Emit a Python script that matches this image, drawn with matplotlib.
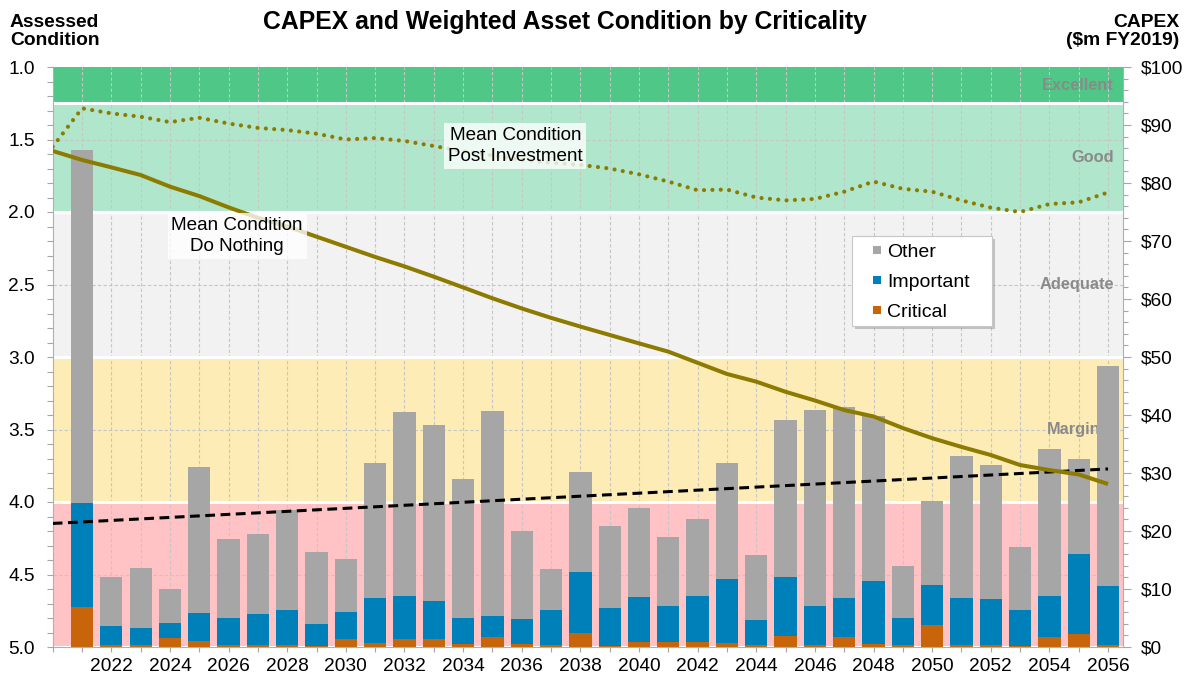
import numpy as np
import matplotlib
matplotlib.use("Agg")
import matplotlib.pyplot as plt
from matplotlib.lines import Line2D
from matplotlib.patches import Rectangle
from matplotlib.ticker import MultipleLocator, FuncFormatter

plt.rcParams['font.family'] = ['Liberation Sans', 'DejaVu Sans']

# ---------------- data ----------------
years = list(range(2021, 2057))
critical = [6.9, 0.3, 0.4, 1.6, 1.1, 0.3, 0.3, 0.3, 0.1, 1.3, 0.7, 1.4, 1.3, 0.5, 1.7, 0.6, 0.3, 2.4,
            0.1, 0.9, 0.9, 0.9, 0.7, 0.4, 1.9, 0.4, 1.8, 0.6, 0.3, 3.8, 0.3, 0.3, 0.2, 1.7, 2.3, 0.4]
important = [18.0, 3.3, 2.9, 2.5, 4.8, 4.7, 5.4, 6.0, 3.8, 4.7, 7.7, 7.4, 6.6, 4.5, 3.6, 4.3, 6.0, 10.5,
             6.6, 7.7, 6.1, 7.9, 11.0, 4.3, 10.1, 6.6, 6.6, 10.7, 4.7, 6.9, 8.1, 8.0, 6.2, 7.1, 13.8, 10.2]
other = [60.8, 8.5, 10.3, 5.9, 25.1, 13.6, 13.7, 17.3, 12.4, 9.2, 23.3, 31.8, 30.4, 23.9, 35.4, 15.1, 7.1, 17.2,
         14.2, 15.4, 11.9, 13.2, 20.1, 11.2, 27.2, 33.9, 32.9, 28.6, 9.0, 14.4, 24.5, 23.0, 10.8, 25.4, 16.3, 37.9]

line_years = list(range(2020, 2057))
cond_do_nothing = [1.579, 1.641, 1.692, 1.745, 1.825, 1.89, 1.968, 2.04, 2.10, 2.17, 2.24, 2.31, 2.375,
                   2.446, 2.52, 2.595, 2.665, 2.73, 2.79, 2.848, 2.906, 2.963, 3.04, 3.117, 3.17, 3.24,
                   3.30, 3.366, 3.41, 3.49, 3.56, 3.62, 3.676, 3.745, 3.78, 3.81, 3.876]
cond_post_invest = [1.55, 1.285, 1.32, 1.343, 1.38, 1.35, 1.39, 1.42, 1.435, 1.46, 1.50, 1.49, 1.51,
                    1.545, 1.58, 1.61, 1.64, 1.66, 1.675, 1.70, 1.74, 1.79, 1.85, 1.845, 1.90, 1.92,
                    1.91, 1.86, 1.79, 1.84, 1.86, 1.92, 1.97, 2.00, 1.945, 1.933, 1.865]

trend_years = [2020, 2056]
trend_capex = [21.3, 30.7]

band_names = ["Excellent", "Good", "Adequate", "Marginal", "Poor"]
band_edges = [1.0, 1.25, 2.0, 3.0, 4.0, 5.0]
band_colors = ["#4fc787", "#b0e6cc", "#f2f2f2", "#fdecb5", "#ffc2c5"]
band_label_show = [True, True, True, True, False]

xtick_labels = [str(y) if (y % 2 == 0 and y >= 2022) else "" for y in range(2020, 2057)]
legend_labels = ["Other", "Important", "Critical"]

c_other = "#a6a6a6"
c_imp = "#0080b8"
c_crit = "#c8650a"
c_line = "#8c7b00"

# ---------------- figure ----------------
W, H = 1184, 679
fig = plt.figure(figsize=(W / 100, H / 100), dpi=100)
L, R, T, B = 52.7, 1122.7, 67, 647
ax = fig.add_axes([L / W, 1 - B / H, (R - L) / W, (B - T) / H])
axc = ax.twinx()
ax.set_xlim(2020, 2056.5)
ax.set_ylim(0, 100)
axc.set_ylim(5.0, 1.0)


def c2v(c):  # condition scale -> capex scale (both axes share the same plot box)
    return (5.0 - c) * 25.0


# bands
for i, name in enumerate(band_names):
    lo, hi = band_edges[i], band_edges[i + 1]
    ax.axhspan(c2v(hi), c2v(lo), color=band_colors[i], lw=0, zorder=0)
for e in band_edges[1:]:
    ax.axhline(c2v(e), color="white", lw=2.2, zorder=0.6)

# grid
grid_kw = dict(color="#c6c6c6", lw=0.8, ls=(0, (3, 2)), zorder=0.5)
for y in years:
    ax.axvline(y, **grid_kw)
for c in np.arange(1.5, 5.0, 0.5):
    ax.axhline(c2v(c), **grid_kw)

# band labels (under the bars)
for i, name in enumerate(band_names):
    if band_label_show[i]:
        mid = (band_edges[i] + band_edges[i + 1]) / 2
        ax.text(0.9919, c2v(mid), name, transform=ax.get_yaxis_transform(),
                ha="right", va="center", fontsize=11.8, fontweight="bold",
                color="#8a8a8a", zorder=1)

# bars
bw = 0.76
crit = np.array(critical)
imp = np.array(important)
oth = np.array(other)
ax.bar(years, crit, width=bw, color=c_crit, zorder=2, label="Critical")
ax.bar(years, imp, width=bw, bottom=crit, color=c_imp, zorder=2, label="Important")
ax.bar(years, oth, width=bw, bottom=crit + imp, color=c_other, zorder=2, label="Other")

# trend (dashed)
ax.plot(trend_years, trend_capex, color="black", lw=2.2, ls=(0, (3.2, 1.8)), zorder=3)

# right axis formatting (CAPEX)
ax.yaxis.tick_right()
ax.yaxis.set_label_position("right")
ax.yaxis.set_major_locator(MultipleLocator(10))
ax.yaxis.set_minor_locator(MultipleLocator(2))
ax.yaxis.set_major_formatter(FuncFormatter(lambda v, p: f"${v:.0f}"))
ax.tick_params(axis="y", which="both", left=False, labelleft=False, right=True, labelright=True)
ax.tick_params(axis="y", which="major", length=6, width=0.8, color="#a6a6a6",
               labelsize=13.8, pad=7)
ax.tick_params(axis="y", which="minor", length=3.5, width=0.8, color="#a6a6a6")
ax.set_xticks(range(2020, 2057))
ax.set_xticklabels(xtick_labels)
ax.tick_params(axis="x", which="major", length=3.6, width=0.8, color="#a6a6a6",
               labelsize=13.8, pad=4)
for s in ["left", "right", "bottom"]:
    ax.spines[s].set_color("#b0b0b0")
    ax.spines[s].set_linewidth(0.8)
ax.spines["top"].set_visible(False)

# condition axis (left, inverted) on top
axc.yaxis.tick_left()
axc.yaxis.set_label_position("left")
axc.yaxis.set_major_locator(MultipleLocator(0.5))
axc.yaxis.set_minor_locator(MultipleLocator(0.1))
axc.yaxis.set_major_formatter(FuncFormatter(lambda v, p: f"{v:.1f}"))
axc.tick_params(axis="y", which="both", left=True, labelleft=True, right=False, labelright=False)
axc.tick_params(axis="y", which="major", length=4, width=0.8, color="#a6a6a6",
                labelsize=13.8, pad=9)
axc.tick_params(axis="y", which="minor", length=4, width=0.8, color="#a6a6a6")
for s in axc.spines.values():
    s.set_visible(False)
axc.patch.set_visible(False)

axc.plot(line_years, cond_do_nothing, color=c_line, lw=2.9, solid_capstyle="butt", zorder=4)
axc.plot(line_years, cond_post_invest, color=c_line, lw=3.0, ls=(0, (0.01, 2.0)),
         dash_capstyle="round", zorder=4)

box = dict(boxstyle="square,pad=0.2", facecolor="white", edgecolor="none", alpha=0.78)
axc.text(2026.29, 2.166, "Mean Condition\nDo Nothing", ha="center", va="center",
         fontsize=13.6, bbox=box, zorder=5, linespacing=1.3)
axc.text(2035.78, 1.545, "Mean Condition\nPost Investment", ha="center", va="center",
         fontsize=13.6, bbox=box, zorder=5, linespacing=1.3)

# legend box (frame + shadow), then legend entries
lx0, ly0, lx1, ly1 = 852.3, 235.7, 991.7, 326.0
fig.add_artist(Rectangle(((lx0 + 3) / W, 1 - (ly1 + 3) / H), (lx1 - lx0) / W, (ly1 - ly0) / H,
                         transform=fig.transFigure, facecolor="#9a9a9a", alpha=0.55,
                         edgecolor="none", zorder=4.8))
fig.add_artist(Rectangle((lx0 / W, 1 - ly1 / H), (lx1 - lx0) / W, (ly1 - ly0) / H,
                         transform=fig.transFigure, facecolor="white",
                         edgecolor="#c8c8c8", lw=0.8, zorder=4.9))
handles = [Line2D([], [], marker="s", ls="none", markersize=6, color=c, markeredgewidth=0)
           for c in (c_other, c_imp, c_crit)]
leg = fig.legend(handles, legend_labels, loc="upper left",
                 bbox_to_anchor=(871.8 / W, 1 - 243.5 / H), bbox_transform=fig.transFigure,
                 fontsize=14, frameon=False, borderaxespad=0, borderpad=0,
                 handlelength=0.5, handletextpad=0.27, labelspacing=0.64)
leg.set_zorder(5)

# titles
fig.text(565 / W, 1 - 22 / H, "CAPEX and Weighted Asset Condition by Criticality",
         ha="center", va="center", fontsize=17.8, fontweight="bold")
fig.text(10 / W, 1 - 14 / H, "Assessed\nCondition", ha="left", va="top",
         fontsize=13.9, fontweight="bold", linespacing=1.05)
fig.text(1179 / W, 1 - 14 / H, "CAPEX\n($m FY2019)", ha="right", va="top",
         fontsize=13.9, fontweight="bold", linespacing=1.05)

fig.savefig("out.png", dpi=100)
